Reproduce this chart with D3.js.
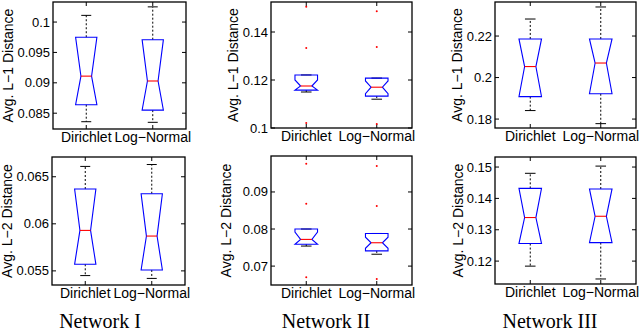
<!DOCTYPE html>
<html>
<head>
<meta charset="utf-8">
<script src="https://cdn.jsdelivr.net/npm/d3@7"></script>
<style>
  body { margin: 0; background: #fff; }
  text { font-family: "Liberation Sans", Arial, Helvetica, sans-serif; fill: #000; }
  .net { font-family: "Liberation Serif", "Times New Roman", serif; }
</style>
</head>
<body>
<svg id="chart" width="640" height="331"></svg>
<script>
// groups / panel titles
var groups = ["Dirichlet", "Log\u2212Normal"];
var networks = ["Network I", "Network II", "Network III"];
var metricLabels = ["Avg. L\u22121 Distance", "Avg. L\u22122 Distance"];

// panels in row order: N-I L1, N-II L1, N-III L1, N-I L2, N-II L2, N-III L2
// each entry = [Dirichlet, Log-Normal]
var lowerWhisker = [[0.0836, 0.0835], [0.1150, 0.1120], [0.1841, 0.1778], [0.0545, 0.0542], [0.0754, 0.0732], [0.1184, 0.1143]];
var q1s          = [[0.0864, 0.0855], [0.1158, 0.1133], [0.1908, 0.1922], [0.0557, 0.0551], [0.0759, 0.0741], [0.1256, 0.1259]];
var medians      = [[0.0911, 0.0903], [0.1175, 0.1170], [0.2053, 0.2070], [0.0593, 0.0587], [0.0772, 0.0763], [0.1339, 0.1343]];
var q3s          = [[0.0975, 0.0971], [0.1221, 0.1208], [0.2186, 0.2186], [0.0637, 0.0632], [0.0800, 0.0788], [0.1432, 0.1430]];
var upperWhisker = [[0.1011, 0.1025], [0.1221, 0.1208], [0.2282, 0.2340], [0.0661, 0.0663], [0.0800, 0.0788], [0.1480, 0.1503]];
var notchLo      = [[0.0846, 0.0838], [0.1150, 0.1143], [0.1900, 0.1915], [0.0550, 0.0545], [0.0755, 0.0748], [0.1250, 0.1250]];
var notchHi      = [[0.0976, 0.0975], [0.1200, 0.1196], [0.2206, 0.2225], [0.0640, 0.0635], [0.0792, 0.0778], [0.1435, 0.1435]];
var outliers     = [[[], []],
                    [[0.1505, 0.1333, 0.1021], [0.1486, 0.1337, 0.1017]],
                    [[], []],
                    [[], []],
                    [[0.0976, 0.0868, 0.0670], [0.0970, 0.0862, 0.0665]],
                    [[], []]];

var yDomains = [[0.0824, 0.1033], [0.1, 0.1525], [0.1757, 0.2364], [0.0535, 0.0671], [0.0649, 0.0997], [0.1127, 0.1532]];
var yTicks = [[0.085, 0.09, 0.095, 0.1], [0.1, 0.12, 0.14], [0.18, 0.2, 0.22],
              [0.055, 0.06, 0.065], [0.07, 0.08, 0.09], [0.12, 0.13, 0.14, 0.15]];

// layout: [left, top, right, bottom] of every axes box
var boxes = [[53, 2, 186, 129], [271, 2, 412, 128], [495, 2, 636, 128],
             [52, 157, 185, 285], [271, 156, 412, 285], [495, 157, 636, 284]];
var yLabelX = [8, 233, 457, 7, 226, 458];
var netX = [100, 326, 550];

var svg = d3.select("#chart");

boxes.forEach(function(b, p) {
  var g = svg.append("g");
  var x = d3.scaleLinear().domain([0.5, 2.5]).range([b[0], b[2]]);
  var y = d3.scaleLinear().domain(yDomains[p]).range([b[3], b[1]]);
  var hw = x(0.66) - x(0.5);   // half box width
  var cw = x(0.575) - x(0.5);  // half cap width

  // axis frame
  g.append("rect")
    .attr("x", b[0]).attr("y", b[1])
    .attr("width", b[2] - b[0]).attr("height", b[3] - b[1])
    .attr("fill", "none").attr("stroke", "#000").attr("stroke-width", 1.3);

  // y ticks, both sides, pointing in
  yTicks[p].forEach(function(t) {
    g.append("line").attr("x1", b[0]).attr("x2", b[0] + 4).attr("y1", y(t)).attr("y2", y(t)).attr("stroke", "#000");
    g.append("line").attr("x1", b[2]).attr("x2", b[2] - 4).attr("y1", y(t)).attr("y2", y(t)).attr("stroke", "#000");
    g.append("text")
      .attr("x", b[0] - 3).attr("y", y(t))
      .attr("text-anchor", "end").attr("dominant-baseline", "central")
      .style("font-size", "13px")
      .text(d3.format("~g")(t));
  });

  groups.forEach(function(name, i) {
    var cx = x(i + 1);
    // x ticks top/bottom
    g.append("line").attr("x1", cx).attr("x2", cx).attr("y1", b[1]).attr("y2", b[1] + 4).attr("stroke", "#000");
    g.append("line").attr("x1", cx).attr("x2", cx).attr("y1", b[3]).attr("y2", b[3] - 4).attr("stroke", "#000");
    g.append("text")
      .attr("x", cx).attr("y", b[3] + 13)
      .attr("text-anchor", "middle")
      .style("font-size", "14px")
      .text(name);

    var lo = lowerWhisker[p][i], hi = upperWhisker[p][i];
    var q1 = q1s[p][i], q3 = q3s[p][i], med = medians[p][i];
    var nlo = Math.max(notchLo[p][i], q1), nhi = Math.min(notchHi[p][i], q3);

    // whiskers
    g.append("line").attr("x1", cx).attr("x2", cx).attr("y1", y(q3)).attr("y2", y(hi))
      .attr("stroke", "#000").attr("stroke-dasharray", "2,2");
    g.append("line").attr("x1", cx).attr("x2", cx).attr("y1", y(q1)).attr("y2", y(lo))
      .attr("stroke", "#000").attr("stroke-dasharray", "2,2");
    [lo, hi].forEach(function(v) {
      g.append("line").attr("x1", cx - cw).attr("x2", cx + cw).attr("y1", y(v)).attr("y2", y(v))
        .attr("stroke", "#000");
    });

    // notched box
    var pts = [[cx - hw, y(q3)], [cx + hw, y(q3)], [cx + hw, y(nhi)], [cx + hw / 2, y(med)],
               [cx + hw, y(nlo)], [cx + hw, y(q1)], [cx - hw, y(q1)], [cx - hw, y(nlo)],
               [cx - hw / 2, y(med)], [cx - hw, y(nhi)]];
    g.append("path")
      .attr("d", d3.line()(pts) + "Z")
      .attr("fill", "none").attr("stroke", "#0000ff").attr("stroke-width", 1.1);
    g.append("line").attr("x1", cx - hw / 2).attr("x2", cx + hw / 2).attr("y1", y(med)).attr("y2", y(med))
      .attr("stroke", "#ff0000").attr("stroke-width", 1.1);

    outliers[p][i].forEach(function(v) {
      g.append("circle").attr("cx", cx).attr("cy", y(v)).attr("r", 1).attr("fill", "#ff0000");
    });
  });

  // y label
  var my = (b[1] + b[3]) / 2;
  g.append("text")
    .attr("transform", "translate(" + yLabelX[p] + "," + my + ") rotate(-90)")
    .attr("text-anchor", "middle").attr("dominant-baseline", "central")
    .style("font-size", "14px")
    .text(metricLabels[p < 3 ? 0 : 1]);
});

networks.forEach(function(n, i) {
  svg.append("text").attr("class", "net")
    .attr("x", netX[i]).attr("y", 328)
    .attr("text-anchor", "middle")
    .style("font-size", "20px")
    .text(n);
});
</script>
</body>
</html>
